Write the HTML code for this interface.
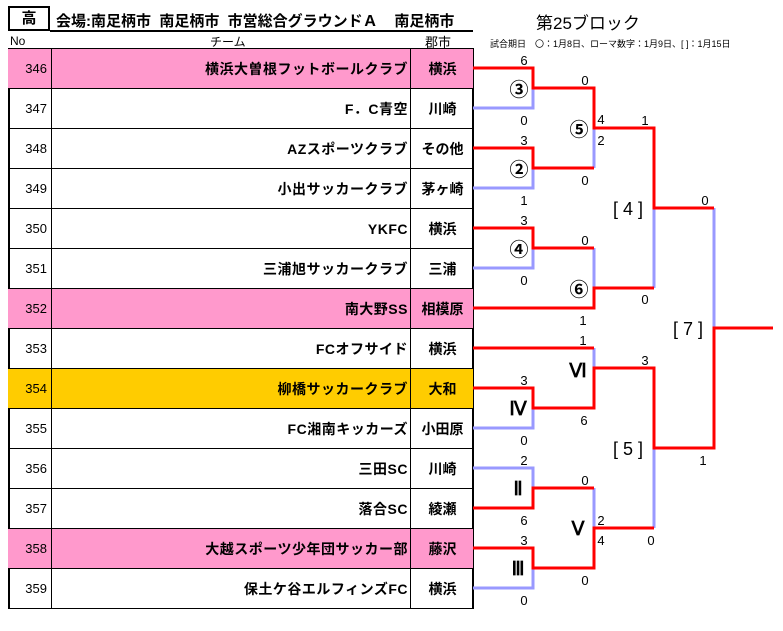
<!DOCTYPE html>
<html><head><meta charset="utf-8"><style>
body{margin:0;width:783px;height:631px;background:#fff;position:relative;overflow:hidden;font-family:"Liberation Sans","Noto Sans CJK JP",sans-serif;}
.a{position:absolute;white-space:nowrap;}
.row{position:absolute;left:8px;width:465px;height:40px;border-bottom:1.5px solid #000;box-sizing:border-box;}
.no{position:absolute;left:0;width:44px;height:40px;line-height:40px;text-align:right;font-size:13px;box-sizing:border-box;padding-right:4px;border-right:1.5px solid #000;}
.tm{position:absolute;left:44px;width:356px;height:40px;line-height:40px;text-align:right;font-size:14px;font-weight:bold;letter-spacing:0.5px;}
.ct{position:absolute;left:402px;width:63px;height:40px;line-height:40px;text-align:center;font-size:14px;font-weight:bold;border-left:1.5px solid #000;}
</style></head><body>
<div class="a" style="left:8px;top:6px;width:42px;height:25px;border:2px solid #000;box-sizing:border-box;text-align:center;font-size:15px;line-height:21px;font-weight:bold">高</div>
<div class="a" style="left:56px;top:10px;font-size:15px;font-weight:bold">会場:南足柄市&nbsp; 南足柄市&nbsp; 市営総合グラウンドＡ&nbsp;&nbsp;&nbsp; 南足柄市</div>
<div class="a" style="left:50px;top:30px;width:423px;height:1.5px;background:#000"></div>
<div class="a" style="left:536px;top:9px;font-size:17px">第25ブロック</div>
<div class="a" style="left:10px;top:34px;font-size:12px">No</div>
<div class="a" style="left:210px;top:33px;font-size:12px">チーム</div>
<div class="a" style="left:425px;top:32px;font-size:13px">郡市</div>
<div class="a" style="left:490px;top:37px;font-size:9px">試合期日　〇：1月8日、ローマ数字：1月9日、[ ]：1月15日</div>
<div class="a" style="left:8px;top:48px;width:465px;height:1.5px;background:#000"></div>
<div class="a" style="left:8px;top:48px;width:1.5px;height:561px;background:#000"></div>
<div class="a" style="left:472px;top:48px;width:1.5px;height:561px;background:#000"></div>
<div class="row" style="top:49px;background:#ff99cc"><div class="no">346</div><div class="tm">横浜大曽根フットボールクラブ</div><div class="ct">横浜</div></div>
<div class="row" style="top:89px"><div class="no">347</div><div class="tm">F．C青空</div><div class="ct">川崎</div></div>
<div class="row" style="top:129px"><div class="no">348</div><div class="tm">AZスポーツクラブ</div><div class="ct">その他</div></div>
<div class="row" style="top:169px"><div class="no">349</div><div class="tm">小出サッカークラブ</div><div class="ct">茅ヶ崎</div></div>
<div class="row" style="top:209px"><div class="no">350</div><div class="tm">YKFC</div><div class="ct">横浜</div></div>
<div class="row" style="top:249px"><div class="no">351</div><div class="tm">三浦旭サッカークラブ</div><div class="ct">三浦</div></div>
<div class="row" style="top:289px;background:#ff99cc"><div class="no">352</div><div class="tm">南大野SS</div><div class="ct">相模原</div></div>
<div class="row" style="top:329px"><div class="no">353</div><div class="tm">FCオフサイド</div><div class="ct">横浜</div></div>
<div class="row" style="top:369px;background:#ffcc00"><div class="no">354</div><div class="tm">柳橋サッカークラブ</div><div class="ct">大和</div></div>
<div class="row" style="top:409px"><div class="no">355</div><div class="tm">FC湘南キッカーズ</div><div class="ct">小田原</div></div>
<div class="row" style="top:449px"><div class="no">356</div><div class="tm">三田SC</div><div class="ct">川崎</div></div>
<div class="row" style="top:489px"><div class="no">357</div><div class="tm">落合SC</div><div class="ct">綾瀬</div></div>
<div class="row" style="top:529px;background:#ff99cc"><div class="no">358</div><div class="tm">大越スポーツ少年団サッカー部</div><div class="ct">藤沢</div></div>
<div class="row" style="top:569px"><div class="no">359</div><div class="tm">保土ケ谷エルフィンズFC</div><div class="ct">横浜</div></div>
<svg class="a" style="left:0;top:0" width="783" height="631">
<g fill="none" stroke-width="3">
<g stroke="#9999ff">
<polyline points="473,108 533,108 533,88"/>
<polyline points="473,188 533,188 533,168"/>
<line x1="594" y1="128" x2="594" y2="168"/>
<polyline points="473,268 533,268 533,248"/>
<line x1="594" y1="248" x2="594" y2="288"/>
<line x1="654" y1="208" x2="654" y2="288"/>
<line x1="714" y1="208" x2="714" y2="328"/>
<line x1="594" y1="348" x2="594" y2="368"/>
<polyline points="473,428 533,428 533,408"/>
<polyline points="473,468 533,468 533,488"/>
<line x1="594" y1="488" x2="594" y2="528"/>
<line x1="654" y1="448" x2="654" y2="528"/>
<polyline points="473,588 533,588 533,568"/>
</g>
<g stroke="#ff0000">
<polyline points="473,68 533,68 533,88 594,88 594,128 654,128 654,208 714,208"/>
<polyline points="473,148 533,148 533,168 594,168"/>
<polyline points="473,228 533,228 533,248 594,248"/>
<polyline points="473,308 594,308 594,288 654,288"/>
<polyline points="773,328 714,328 714,448 654,448 654,368 594,368 594,408 533,408 533,388 473,388"/>
<line x1="473" y1="348" x2="594" y2="348"/>
<polyline points="473,508 533,508 533,488 594,488"/>
<polyline points="654,528 594,528 594,568 533,568 533,548 473,548"/>
</g>
</g>
<g font-family="Liberation Sans, sans-serif" font-size="13" text-anchor="middle">
<text x="524" y="65">6</text><text x="585" y="85">0</text><text x="524" y="125">0</text>
<text x="601" y="124">4</text><text x="601" y="145">2</text><text x="645" y="125">1</text>
<text x="524" y="145">3</text><text x="585" y="185">0</text><text x="524" y="205">1</text>
<text x="705" y="205">0</text><text x="524" y="225">3</text><text x="585" y="245">0</text>
<text x="524" y="285">0</text><text x="645" y="304">0</text><text x="583" y="325">1</text>
<text x="583" y="345">1</text><text x="645" y="365">3</text><text x="524" y="385">3</text>
<text x="584" y="425">6</text><text x="524" y="445">0</text><text x="703" y="465">1</text>
<text x="524" y="465">2</text><text x="585" y="485">0</text><text x="524" y="525">6</text>
<text x="601" y="525">2</text><text x="601" y="545">4</text><text x="651" y="545">0</text>
<text x="524" y="545">3</text><text x="585" y="585">0</text><text x="524" y="605">0</text>
</g>
<g font-family="Noto Sans CJK JP, sans-serif" font-size="19" text-anchor="middle" font-weight="bold">
<text x="519" y="96">③</text><text x="579" y="136">⑤</text><text x="519" y="176">②</text>
<text x="519" y="256">④</text><text x="579" y="296">⑥</text>
</g>
<g font-family="Liberation Serif, serif" font-size="19" text-anchor="middle" font-weight="bold">
<text x="578" y="377">Ⅵ</text><text x="518" y="415">Ⅳ</text><text x="518" y="495">Ⅱ</text>
<text x="578" y="535">Ⅴ</text><text x="518" y="575">Ⅲ</text>
</g>
<g font-family="Liberation Sans, sans-serif" font-size="18" text-anchor="middle">
<text x="628" y="215">[ 4 ]</text><text x="688" y="335">[ 7 ]</text><text x="628" y="455">[ 5 ]</text>
</g>
</svg>
</body></html>
